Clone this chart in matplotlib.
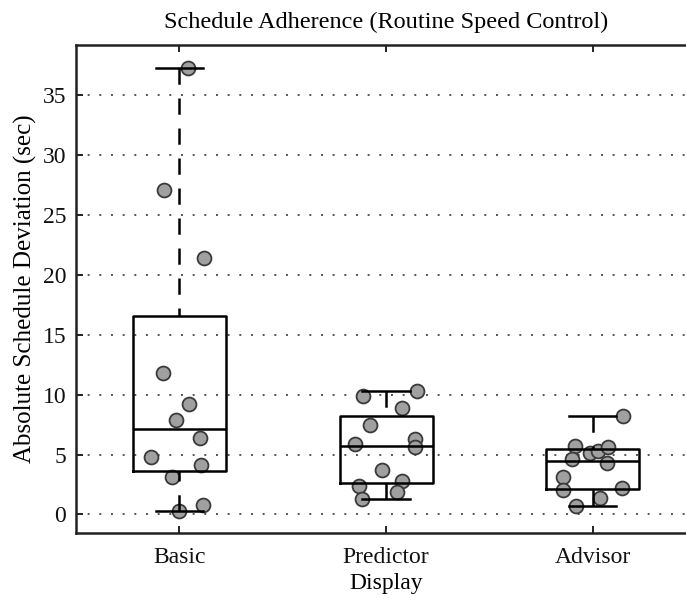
import numpy as np
import matplotlib
matplotlib.use("Agg")
import matplotlib.pyplot as plt

categories = ["Basic", "Predictor", "Advisor"]
basic_vals = [37.3, 27.1, 21.4, 11.8, 9.25, 7.85, 6.4, 4.8, 4.1, 3.1, 0.3, 0.75]
predictor_vals = [9.9, 10.3, 8.9, 7.5, 5.9, 6.3, 5.6, 3.7, 2.8, 2.4, 1.9, 1.25]
advisor_vals = [8.2, 5.75, 5.15, 5.3, 5.6, 4.6, 4.3, 3.15, 2.05, 2.2, 1.4, 0.7]
# horizontal jitter of each point (category units)
basic_jit = [0.042, -0.076, 0.121, -0.079, 0.048, -0.014, 0.101, -0.137, 0.106, -0.035, 0.0, 0.114]
predictor_jit = [-0.110, 0.148, 0.076, -0.077, -0.150, 0.140, 0.140, -0.021, 0.076, -0.129, 0.052, -0.117]
advisor_jit = [0.145, -0.087, -0.014, 0.024, 0.074, -0.101, 0.068, -0.143, -0.143, 0.143, 0.036, -0.079]
yticks = [0, 5, 10, 15, 20, 25, 30, 35]

series = [basic_vals, predictor_vals, advisor_vals]
jitters = [basic_jit, predictor_jit, advisor_jit]

plt.rcParams['font.family'] = ['Liberation Serif', 'DejaVu Serif']


def matlab_stats(vals):
    v = np.sort(np.asarray(vals, dtype=float))
    n = len(v)
    def prc(p):
        pos = n * p + 0.5
        lo = int(np.floor(pos)); hi = int(np.ceil(pos))
        lo = min(max(lo, 1), n); hi = min(max(hi, 1), n)
        frac = pos - np.floor(pos)
        return v[lo - 1] + frac * (v[hi - 1] - v[lo - 1])
    return dict(med=prc(0.5), q1=prc(0.25), q3=prc(0.75),
                whislo=v[0], whishi=v[-1], fliers=[])


fig = plt.figure(figsize=(6.86, 5.98), dpi=100)
ax = fig.add_axes([76 / 686, 65 / 598, 620 / 686, 488 / 598])

positions = [1, 2, 3]
stats = [matlab_stats(s) for s in series]

# points
for pos, vals, jit in zip(positions, series, jitters):
    ax.plot(np.array(jit) + pos, vals, 'o', ms=10, mfc='#a0a0a0',
            mec='#3a3a3a', mew=1.3, zorder=2, linestyle='none')

lw = 1.8
bp = ax.bxp(stats, positions=positions, widths=0.45, capwidths=0.23,
            showfliers=False, patch_artist=False,
            boxprops=dict(color='black', linewidth=lw),
            medianprops=dict(color='black', linewidth=lw),
            whiskerprops=dict(color='black', linewidth=lw, linestyle=(0, (6.5, 5.5))),
            capprops=dict(color='black', linewidth=lw))
for art in bp['boxes'] + bp['medians'] + bp['whiskers'] + bp['caps']:
    art.set_zorder(3)
# draw whiskers from the cap toward the box
for w in bp['whiskers']:
    x, y = w.get_data()
    w.set_data(x[::-1], y[::-1])

ax.set_xlim(0.5, 3.5)
ax.set_ylim(-1.55, 39.2)
ax.set_yticks(yticks)
ax.set_xticks(positions)
ax.set_xticklabels(categories)
ax.yaxis.grid(True, linestyle=(0, (1, 5)), color='#555555', linewidth=1.4)
ax.set_axisbelow(True)
ax.tick_params(direction='in', length=5, width=1.3, labelsize=17,
               top=True, right=False, colors='#111111')
ax.tick_params(axis='x', pad=10)
ax.tick_params(axis='y', pad=7)
for s in ax.spines.values():
    s.set_linewidth(1.8)
    s.set_color('#222222')

ax.set_title("Schedule Adherence (Routine Speed Control)", fontsize=17.5, pad=12)
ax.set_xlabel("Display", fontsize=17, labelpad=3.5)
ax.set_ylabel("Absolute Schedule Deviation (sec)", fontsize=18, labelpad=4)

fig.savefig("out.png", dpi=100)
